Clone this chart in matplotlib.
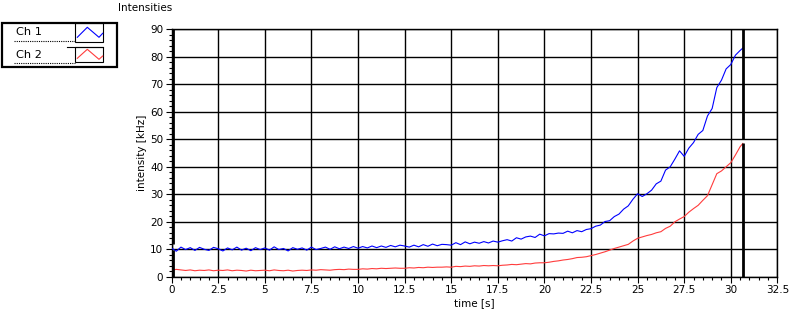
import matplotlib
matplotlib.use("Agg")
import matplotlib.pyplot as plt
from matplotlib.ticker import MultipleLocator, FuncFormatter

# ---------------- data ----------------
# samples every 0.25 s, last sample at 30.65 s
time_s = [i * 0.25 for i in range(123)] + [30.65]

ch1 = [
    10.4, 9.3, 10.8, 9.9,    10.6, 9.6, 10.7, 10.0,   9.6, 10.7, 10.2, 9.4,
    10.5, 9.8, 10.8, 9.7,    10.4, 9.5, 10.6, 9.9,    10.5, 9.7, 10.9, 9.9,
    10.3, 9.4, 10.6, 10.0,   10.5, 9.7, 10.8, 9.9,    10.3, 10.8, 10.0, 10.9,
    10.2, 10.8, 10.3, 11.0,  10.4, 11.0, 10.5, 11.2,  10.6, 11.2, 10.7, 11.4,
    10.9, 11.5, 11.2, 10.8,  11.5, 10.9, 11.7, 11.1,  11.9, 11.3, 11.8, 11.7,
    11.5, 12.4, 11.7, 12.7,  12.0, 12.6, 12.2, 12.8,  12.3, 13.0, 12.6, 13.1,
    13.5, 13.0, 14.2, 13.7,  14.5, 14.8, 14.3, 15.5,  14.9, 15.7, 15.6, 15.9,
    15.8, 16.6, 16.0, 16.8,  16.4, 17.2, 17.5, 18.4,  18.8, 20.1, 20.4, 21.9,
    22.8, 24.6, 25.8, 28.2,  30.2, 29.2, 30.2, 31.5,  33.8, 34.8, 38.8, 40.0,
    42.8, 45.8, 43.8, 46.8,  48.8, 51.8, 53.2, 58.5,  61.2, 68.8, 71.5, 75.6,
    77.2, 80.6, 82.3, 83.2,
]
ch2 = [
    2.4, 2.7, 2.5, 2.3,   2.5, 2.2, 2.4, 2.3,   2.5, 2.2, 2.4, 2.3,
    2.5, 2.2, 2.4, 2.3,   2.1, 2.4, 2.2, 2.3,   2.4, 2.2, 2.5, 2.3,
    2.2, 2.4, 2.1, 2.3,   2.4, 2.3, 2.5, 2.4,   2.6, 2.5, 2.4, 2.6,
    2.7, 2.6, 2.8, 2.7,   2.7, 2.9, 2.8, 3.0,   2.9, 3.1, 3.0, 3.1,
    3.2, 3.1, 3.1, 3.3,   3.2, 3.4, 3.3, 3.5,   3.4, 3.5, 3.5, 3.6,
    3.5, 3.8, 3.7, 3.9,   3.8, 4.0, 3.9, 4.1,   4.0, 4.1, 4.0, 4.2,
    4.3, 4.5, 4.4, 4.6,   4.8, 4.7, 5.0, 5.1,   5.1, 5.3, 5.6, 5.8,
    6.1, 6.3, 6.6, 7.0,   7.1, 7.3, 7.7, 8.1,   8.6, 9.1, 9.7, 10.3,
    10.8, 11.3, 11.8, 13.0,  14.0, 14.5, 15.0, 15.4,  16.0, 16.4, 17.6, 18.4,
    20.0, 21.0, 21.9, 23.5,  24.8, 26.0, 27.8, 29.5,  33.5, 37.5, 38.5, 40.0,
    41.5, 44.3, 47.3, 48.5,
]

channel_names = ["Ch 1", "Ch 2"]
channel_colors = ["#0000ff", "#ff3c3c"]

# cursors: position (s) and the value-range of the small gap in each cursor line
cursor_pos = [0.1, 30.67]
cursor_gap = [(9.7, 11.8), (48.8, 50.0)]

x_max, y_max = 32.5, 90
title = "Intensities"
xlabel = "time [s]"
ylabel = "intensity [kHz]"

# ---------------- figure ----------------
plt.rcParams["font.family"] = ["DejaVu Sans"]
FS = 7.5
fig = plt.figure(figsize=(8.02, 3.2), dpi=100)

# overlay in pixel coordinates for the LabVIEW-style legend/title
ov = fig.add_axes([0, 0, 1, 1], zorder=0)
ov.set_xlim(0, 802)
ov.set_ylim(320, 0)
ov.axis("off")

ax = fig.add_axes([0.214, 0.135, 0.7553, 0.7734], zorder=1)
ax.set_xlim(0, x_max)
ax.set_ylim(0, y_max)

ax.xaxis.set_major_locator(MultipleLocator(2.5))
ax.xaxis.set_minor_locator(MultipleLocator(0.5))
ax.yaxis.set_major_locator(MultipleLocator(10))
ax.yaxis.set_minor_locator(MultipleLocator(2))
ax.xaxis.set_major_formatter(FuncFormatter(lambda v, p: ("%g" % v)))
ax.grid(True, which="major", color="black", linewidth=1.0)
ax.set_axisbelow(True)
ax.tick_params(which="major", direction="out", length=4, width=0.8,
               labelsize=FS, pad=2, color="black")
ax.tick_params(which="minor", direction="out", length=2.2, width=0.8, color="black")
for s in ax.spines.values():
    s.set_color("black")
    s.set_linewidth(1.0)

ax.plot(time_s, ch1, color=channel_colors[0], linewidth=0.8, zorder=3)
ax.plot(time_s, ch2, color=channel_colors[1], linewidth=0.8, zorder=3)

for cx, (g0, g1) in zip(cursor_pos, cursor_gap):
    ax.plot([cx, cx], [0, g0], color="black", linewidth=2.0, zorder=4,
            solid_capstyle="butt")
    ax.plot([cx, cx], [g1, y_max], color="black", linewidth=2.0, zorder=4,
            solid_capstyle="butt")

ax.set_xlabel(xlabel, fontsize=FS, labelpad=2)
ax.set_ylabel(ylabel, fontsize=FS, labelpad=2)

# title
ov.text(118, 8, title, fontsize=FS, ha="left", va="center")

# legend box
ov.add_patch(plt.Rectangle((2, 22.5), 115, 44, fill=False, edgecolor="black",
                           linewidth=1.6))
icon_y = [(22.5, 41.7), (46.7, 62.5)]
text_y = [32, 55]
line_y = [40.7, 62.7]
zig_dy = [(37.3, 27.3, 37.3, 33.3), (58.3, 49.3, 59.3, 56.0)]
for name, col, (iy0, iy1), ty, ly, zz in zip(channel_names, channel_colors,
                                             icon_y, text_y, line_y, zig_dy):
    ov.add_patch(plt.Rectangle((75, iy0), 28.3, iy1 - iy0, fill=False,
                               edgecolor="black", linewidth=0.8))
    ov.text(16, ty, name, fontsize=8.2, ha="left", va="center")
    ov.plot([14, 75], [ly, ly], color="black", linewidth=0.8,
            linestyle=(0, (1, 1)))
    ov.plot([77.3, 87.3, 99, 102.7], list(zz), color=col, linewidth=0.8)
ov.plot([67, 103.3], [46.7, 46.7], color="black", linewidth=0.8)

fig.savefig("out.png", dpi=100)
